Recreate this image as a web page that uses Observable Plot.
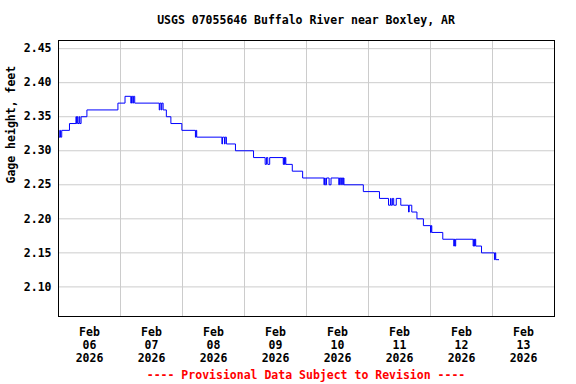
<!DOCTYPE html>
<html>
<head>
<meta charset="utf-8">
<script src="https://cdn.jsdelivr.net/npm/d3@7"></script>
<script src="https://cdn.jsdelivr.net/npm/@observablehq/plot@0.6"></script>
<style>
  body { margin: 0; background: #fff; }
  #wrap { width: 576px; height: 384px; position: relative; background: #fff; font-family: "DejaVu Sans Mono", monospace; font-weight: bold; font-size: 11.5px; }
  #title { height: 20px; line-height: 20px; padding-top: 10px; padding-left: 36px; text-align: center; color: #000; white-space: pre; }
  #footer { height: 18px; line-height: 18px; padding-left: 36px; text-align: center; color: #ff0000; white-space: pre; }
  #chart svg { display: block; }
</style>
</head>
<body>
<div id="wrap">
  <div id="title">USGS 07055646 Buffalo River near Boxley, AR</div>
  <div id="chart"></div>
  <div id="footer">---- Provisional Data Subject to Revision ----</div>
</div>
<script>
// Reading times (UTC) at which the gage height changed, and the height from then on
const readingTimes = [
  "2026-02-06T00:00", "2026-02-06T00:30", "2026-02-06T00:45", "2026-02-06T01:15", "2026-02-06T04:15",
  "2026-02-06T06:45", "2026-02-06T07:00", "2026-02-06T07:15", "2026-02-06T07:30", "2026-02-06T08:00",
  "2026-02-06T08:15", "2026-02-06T08:45", "2026-02-06T11:00", "2026-02-06T23:00",
  "2026-02-07T01:45", "2026-02-07T04:00", "2026-02-07T04:15", "2026-02-07T04:45", "2026-02-07T05:00",
  "2026-02-07T05:30", "2026-02-07T15:00", "2026-02-07T15:15", "2026-02-07T15:45", "2026-02-07T16:00",
  "2026-02-07T16:30", "2026-02-07T17:45", "2026-02-07T19:30", "2026-02-07T23:45",
  "2026-02-08T05:00", "2026-02-08T05:15", "2026-02-08T05:30", "2026-02-08T15:15", "2026-02-08T15:30",
  "2026-02-08T16:15", "2026-02-08T16:30", "2026-02-08T17:00", "2026-02-08T20:30",
  "2026-02-09T03:30", "2026-02-09T08:00", "2026-02-09T08:30", "2026-02-09T09:00", "2026-02-09T09:45",
  "2026-02-09T15:00", "2026-02-09T15:15", "2026-02-09T15:30", "2026-02-09T15:45", "2026-02-09T16:00",
  "2026-02-09T18:30", "2026-02-09T22:30",
  "2026-02-10T06:45", "2026-02-10T07:00", "2026-02-10T07:15", "2026-02-10T07:45", "2026-02-10T08:45",
  "2026-02-10T09:30", "2026-02-10T12:30", "2026-02-10T12:45", "2026-02-10T13:15", "2026-02-10T13:30",
  "2026-02-10T14:00", "2026-02-10T14:15", "2026-02-10T14:30", "2026-02-10T22:00",
  "2026-02-11T04:15", "2026-02-11T07:45", "2026-02-11T08:30", "2026-02-11T08:45", "2026-02-11T09:15",
  "2026-02-11T09:45", "2026-02-11T10:45", "2026-02-11T12:30", "2026-02-11T15:30", "2026-02-11T15:45",
  "2026-02-11T16:45", "2026-02-11T18:45", "2026-02-11T21:15",
  "2026-02-12T00:00", "2026-02-12T00:15", "2026-02-12T00:30", "2026-02-12T04:45", "2026-02-12T09:00",
  "2026-02-12T09:15", "2026-02-12T09:30", "2026-02-12T09:45", "2026-02-12T16:30", "2026-02-12T16:45",
  "2026-02-12T17:00", "2026-02-12T17:15", "2026-02-12T17:30", "2026-02-12T19:45",
  "2026-02-13T00:45", "2026-02-13T01:00", "2026-02-13T01:15", "2026-02-13T02:30"
];
const gageHeights = [
  2.32, 2.33, 2.32, 2.33, 2.34,
  2.35, 2.34, 2.35, 2.34, 2.35,
  2.34, 2.35, 2.36, 2.37,
  2.38, 2.37, 2.38, 2.37, 2.38,
  2.37, 2.36, 2.37, 2.36, 2.37,
  2.36, 2.35, 2.34, 2.33,
  2.32, 2.33, 2.32, 2.31, 2.32,
  2.31, 2.32, 2.31, 2.30,
  2.29, 2.28, 2.29, 2.28, 2.29,
  2.28, 2.29, 2.28, 2.29, 2.28,
  2.27, 2.26,
  2.25, 2.26, 2.25, 2.26, 2.25,
  2.26, 2.25, 2.26, 2.25, 2.26,
  2.25, 2.26, 2.25, 2.24,
  2.23, 2.22, 2.23, 2.22, 2.23,
  2.22, 2.23, 2.22, 2.21, 2.22,
  2.21, 2.20, 2.19,
  2.18, 2.19, 2.18, 2.17, 2.16,
  2.17, 2.16, 2.17, 2.16, 2.17,
  2.16, 2.17, 2.16, 2.15,
  2.14, 2.15, 2.14, 2.14
];

const yTicks = [2.10, 2.15, 2.20, 2.25, 2.30, 2.35, 2.40, 2.45];
const dayGrid = ["2026-02-07", "2026-02-08", "2026-02-09", "2026-02-10", "2026-02-11", "2026-02-12", "2026-02-13"];
const dayLabels = ["2026-02-06", "2026-02-07", "2026-02-08", "2026-02-09", "2026-02-10", "2026-02-11", "2026-02-12", "2026-02-13"];
const xDomain = ["2026-02-06", "2026-02-14"];
const yDomain = [2.0565, 2.462];

const parse = s => new Date((s.length === 10 ? s + "T00:00" : s) + ":00Z");
const data = readingTimes.map((t, i) => ({ time: parse(t), height: gageHeights[i] }));
const gridDates = dayGrid.map(parse);
const labelDates = dayLabels.map(d => new Date(parse(d).getTime() + 12 * 3600 * 1000));
const months = ["Jan","Feb","Mar","Apr","May","Jun","Jul","Aug","Sep","Oct","Nov","Dec"];
const fmtDay = d => `${months[d.getUTCMonth()]}\n${String(d.getUTCDate()).padStart(2, "0")}\n${d.getUTCFullYear()}`;

const chart = Plot.plot({
  width: 576,
  height: 336,
  marginTop: 10,
  marginBottom: 50,
  marginLeft: 58,
  marginRight: 22,
  style: { fontFamily: "DejaVu Sans Mono, monospace", fontWeight: "bold", fontSize: "11.5px", color: "#000", background: "#fff", overflow: "visible" },
  x: { type: "utc", domain: xDomain.map(parse) },
  y: { domain: yDomain },
  marks: [
    Plot.gridY(yTicks, { stroke: "#cccccc", strokeOpacity: 1 }),
    Plot.gridX(gridDates, { stroke: "#cccccc", strokeOpacity: 1 }),
    Plot.line(data, { x: "time", y: "height", curve: "step-after", stroke: "#0000ff", strokeWidth: 1 }),
    Plot.frame({ stroke: "#000", strokeWidth: 1 }),
    Plot.axisY(yTicks, { tickSize: 0, tickPadding: 7, tickFormat: d => d.toFixed(2), label: null, fill: "#000" }),
    Plot.axisX(labelDates, { tickSize: 0, tickPadding: 10, tickFormat: fmtDay, lineHeight: 1.13, label: null, fill: "#000" }),
    Plot.text(["Gage height, feet"], { frameAnchor: "left", rotate: -90, dx: -47, dy: 5, fill: "#000", text: d => d })
  ]
});
document.getElementById("chart").appendChild(chart);
</script>
</body>
</html>
